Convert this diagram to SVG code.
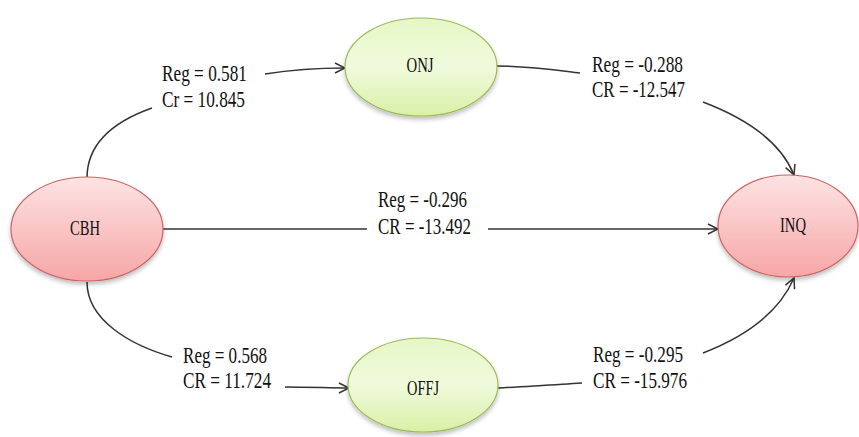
<svg xmlns="http://www.w3.org/2000/svg" width="859" height="437" viewBox="0 0 859 437">
<defs>
<linearGradient id="gRed" x1="0" y1="0" x2="0" y2="1">
<stop offset="0" stop-color="#fde3e3"/>
<stop offset="1" stop-color="#f7a6a6"/>
</linearGradient>
<linearGradient id="gGreen" x1="0" y1="0" x2="0" y2="1">
<stop offset="0" stop-color="#e6f6c6"/>
<stop offset="0.5" stop-color="#f0fadc"/>
<stop offset="1" stop-color="#d9f0a6"/>
</linearGradient>
<filter id="sh" x="-20%" y="-20%" width="140%" height="150%">
<feDropShadow dx="0" dy="3" stdDeviation="2" flood-color="#000" flood-opacity="0.25"/>
</filter>
<marker id="arr" viewBox="0 0 12 12" refX="11" refY="6" markerWidth="12" markerHeight="12" markerUnits="userSpaceOnUse" orient="auto">
<path d="M1,1 L11,6 L1,11" fill="none" stroke="#333" stroke-width="1.5"/>
</marker>
</defs>
<style>
.red{fill:url(#gRed);stroke:#c96464;stroke-width:1.2;filter:url(#sh)}
.green{fill:url(#gGreen);stroke:#9bbb59;stroke-width:1.2;filter:url(#sh)}
.nt{font-family:"Liberation Serif","Times New Roman",serif;font-size:22px;fill:#111;text-anchor:middle}
.lb{font-family:"Liberation Serif","Times New Roman",serif;font-size:23px;fill:#111}
.c{fill:none;stroke:#333;stroke-width:1.5}
</style>
<rect width="859" height="437" fill="#fff"/>
<g id="connectors">
<path class="c" d="M87,178 C87,140 118,120 152,108"/>
<path class="c" d="M265,74 C290,70 318,68 345,68" marker-end="url(#arr)"/>
<path class="c" d="M496,66 C530,66 555,70 580,73"/>
<path class="c" d="M703,102 C745,118 780,140 794,175" marker-end="url(#arr)"/>
<path class="c" d="M163,229 L367,229"/>
<path class="c" d="M488,229 L718,229" marker-end="url(#arr)"/>
<path class="c" d="M87,282 C87,320 130,345 172,357"/>
<path class="c" d="M285,387 C310,387 330,388 349,388" marker-end="url(#arr)"/>
<path class="c" d="M498,388 C530,386 555,385 582,383"/>
<path class="c" d="M703,353 C750,335 780,310 794,278" marker-end="url(#arr)"/>
</g>
<g id="labels">
<text class="lb" x="162" y="81" textLength="85" lengthAdjust="spacingAndGlyphs">Reg = 0.581</text>
<text class="lb" x="162" y="107" textLength="83" lengthAdjust="spacingAndGlyphs">Cr = 10.845</text>
<text class="lb" x="592" y="72" textLength="91" lengthAdjust="spacingAndGlyphs">Reg = -0.288</text>
<text class="lb" x="592" y="97" textLength="93" lengthAdjust="spacingAndGlyphs">CR = -12.547</text>
<text class="lb" x="378" y="207" textLength="89" lengthAdjust="spacingAndGlyphs">Reg = -0.296</text>
<text class="lb" x="378" y="234" textLength="93" lengthAdjust="spacingAndGlyphs">CR = -13.492</text>
<text class="lb" x="183" y="363" textLength="84" lengthAdjust="spacingAndGlyphs">Reg = 0.568</text>
<text class="lb" x="183" y="388" textLength="88" lengthAdjust="spacingAndGlyphs">CR = 11.724</text>
<text class="lb" x="593" y="362" textLength="90" lengthAdjust="spacingAndGlyphs">Reg = -0.295</text>
<text class="lb" x="593" y="388" textLength="94" lengthAdjust="spacingAndGlyphs">CR = -15.976</text>
</g>
<g id="CBH">
<ellipse class="red" cx="87" cy="229" rx="76" ry="52"/>
<text class="nt" x="85" y="235" textLength="30" lengthAdjust="spacingAndGlyphs">CBH</text>
</g>
<g id="INQ">
<ellipse class="red" cx="788" cy="226" rx="70" ry="51"/>
<text class="nt" x="793" y="232" textLength="26" lengthAdjust="spacingAndGlyphs">INQ</text>
</g>
<g id="ONJ">
<ellipse class="green" cx="421" cy="67" rx="76" ry="49"/>
<text class="nt" x="420" y="72" textLength="27" lengthAdjust="spacingAndGlyphs">ONJ</text>
</g>
<g id="OFFJ">
<ellipse class="green" cx="423" cy="385" rx="75" ry="47"/>
<text class="nt" x="423" y="395" textLength="32" lengthAdjust="spacingAndGlyphs">OFFJ</text>
</g>
</svg>
